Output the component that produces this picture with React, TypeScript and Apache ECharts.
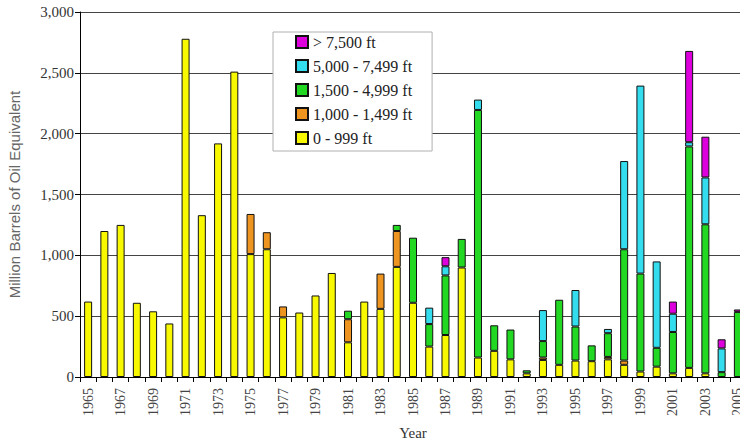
import React, { useEffect, useRef } from "react";
import * as echarts from "echarts";

const years = [
  "1965", "1966", "1967", "1968", "1969", "1970", "1971", "1972", "1973", "1974",
  "1975", "1976", "1977", "1978", "1979", "1980", "1981", "1982", "1983", "1984",
  "1985", "1986", "1987", "1988", "1989", "1990", "1991", "1992", "1993", "1994",
  "1995", "1996", "1997", "1998", "1999", "2000", "2001", "2002", "2003", "2004",
  "2005",
];

// 0 - 999 ft
const shallow = [
  620, 1200, 1250, 610, 540, 440, 2780, 1330, 1920, 2510,
  1010, 1050, 490, 530, 670, 855, 285, 620, 560, 905,
  610, 250, 345, 900, 160, 215, 145, 30, 140, 100,
  135, 130, 145, 100, 45, 85, 30, 75, 30, 0,
  0,
];
// 1,000 - 1,499 ft
const mid = [
  0, 0, 0, 0, 0, 0, 0, 0, 0, 0,
  330, 140, 90, 0, 0, 0, 190, 0, 290, 295,
  0, 0, 0, 0, 0, 0, 0, 0, 20, 0,
  0, 0, 20, 35, 0, 0, 0, 0, 0, 0,
  0,
];
// 1,500 - 4,999 ft
const deep = [
  0, 0, 0, 0, 0, 0, 0, 0, 0, 0,
  0, 0, 0, 0, 0, 0, 70, 0, 0, 50,
  535, 185, 490, 235, 2035, 210, 245, 25, 135, 535,
  280, 130, 195, 915, 805, 155, 340, 1820, 1225, 40,
  535,
];
// 5,000 - 7,499 ft
const deeper = [
  0, 0, 0, 0, 0, 0, 0, 0, 0, 0,
  0, 0, 0, 0, 0, 0, 0, 0, 0, 0,
  0, 135, 75, 0, 85, 0, 0, 0, 255, 0,
  300, 0, 35, 725, 1545, 710, 150, 35, 385, 195,
  0,
];
// > 7,500 ft
const ultra = [
  0, 0, 0, 0, 0, 0, 0, 0, 0, 0,
  0, 0, 0, 0, 0, 0, 0, 0, 0, 0,
  0, 0, 75, 0, 0, 0, 0, 0, 0, 0,
  0, 0, 0, 0, 0, 0, 100, 750, 335, 75,
  20,
];

const seriesNames = ["0 - 999 ft", "1,000 - 1,499 ft", "1,500 - 4,999 ft", "5,000 - 7,499 ft", "> 7,500 ft"];
const seriesColors = ["#F8F800", "#EE9420", "#22D822", "#33DDEE", "#DD00DD"];
const legendOrder = ["> 7,500 ft", "5,000 - 7,499 ft", "1,500 - 4,999 ft", "1,000 - 1,499 ft", "0 - 999 ft"];
const yTicks = [0, 500, 1000, 1500, 2000, 2500, 3000];

export default function App() {
  const ref = useRef<HTMLDivElement>(null);

  useEffect(() => {
    document.body.style.margin = "0";
    if (!ref.current) return;
    const chart = echarts.init(ref.current, undefined, { renderer: "svg" });
    const dataSets = [shallow, mid, deep, deeper, ultra];
    const serif = "'Liberation Serif', 'Times New Roman', serif";
    chart.setOption({
      animation: false,
      backgroundColor: "#ffffff",
      grid: { left: 80, top: 12, width: 666, bottom: 64, containLabel: false, outerBoundsMode: "none" },
      legend: {
        data: legendOrder,
        orient: "vertical",
        left: 273,
        top: 32,
        padding: [2, 20, 5, 22],
        itemWidth: 12,
        itemHeight: 12,
        itemGap: 8,
        itemTextGap: 4,
        backgroundColor: "#ffffff",
        borderColor: "#b0b0b0",
        borderWidth: 1,
        icon: "rect",
        textStyle: { fontFamily: serif, fontSize: 16, color: "#222" },
      },
      xAxis: {
        type: "category",
        data: years,
        name: "Year",
        nameLocation: "middle",
        nameGap: 48,
        nameTextStyle: { fontFamily: serif, fontSize: 15, color: "#333" },
        axisLine: { lineStyle: { color: "#000", width: 1 } },
        axisTick: { show: true, interval: 0, length: 5, lineStyle: { color: "#000" } },
        axisLabel: {
          interval: 1,
          rotate: 90,
          margin: 11,
          fontFamily: serif,
          fontSize: 14,
          color: "#444",
        },
      },
      yAxis: {
        type: "value",
        min: 0,
        max: 3000,
        interval: 500,
        name: "Million Barrels of Oil Equivalent",
        nameLocation: "middle",
        nameGap: 58,
        nameTextStyle: { fontFamily: "'Liberation Sans', Arial, sans-serif", fontSize: 15, color: "#666" },
        axisLine: { show: true, lineStyle: { color: "#000", width: 1 } },
        axisTick: { show: true, length: 5, lineStyle: { color: "#000" } },
        axisLabel: {
          margin: 6,
          fontFamily: serif,
          fontSize: 15,
          color: "#333",
          formatter: (v: number) => (yTicks.includes(v) ? v.toLocaleString("en-US") : ""),
        },
        splitLine: { show: true, lineStyle: { color: "#444", width: 1 } },
      },
      series: seriesNames.map((name, i) => ({
        name,
        type: "bar",
        stack: "total",
        barWidth: 8,
        itemStyle: { color: seriesColors[i], borderColor: "#111", borderWidth: 1 },
        emphasis: { disabled: true },
        data: dataSets[i].map((v) => (v === 0 ? null : v)),
      })),
    });
    return () => chart.dispose();
  }, []);

  return <div ref={ref} style={{ width: 740, height: 441 }} />;
}
